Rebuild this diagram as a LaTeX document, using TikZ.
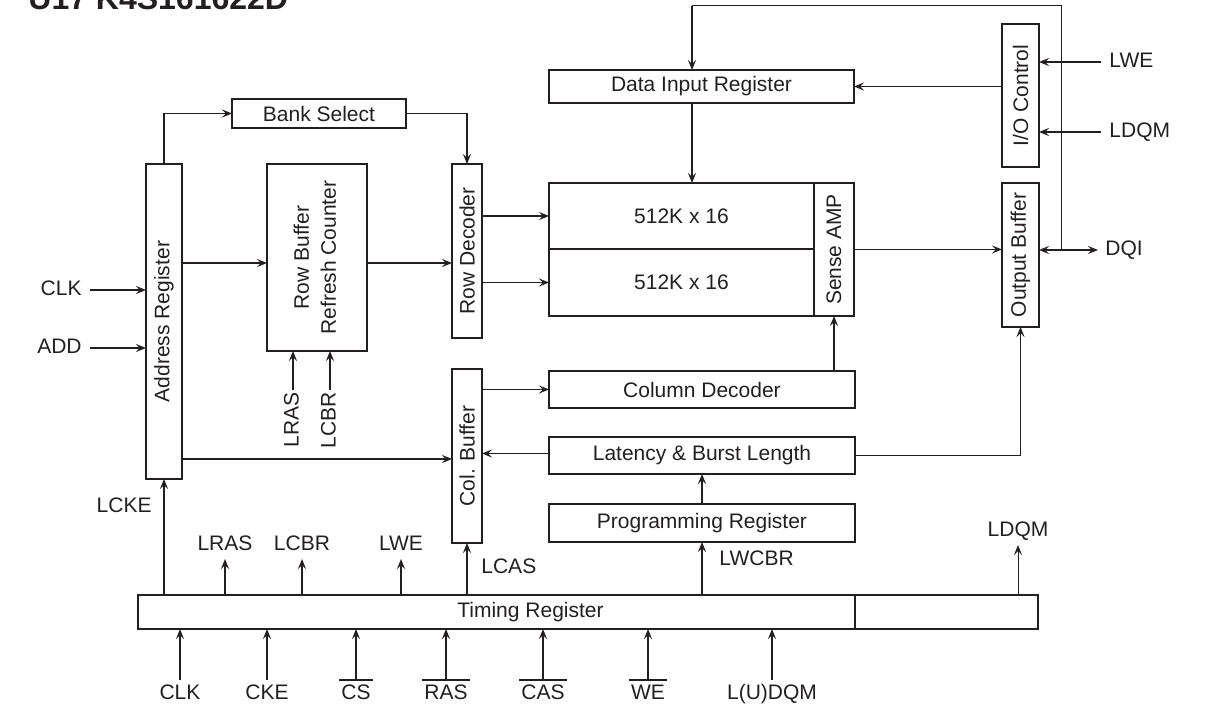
\documentclass[tikz,border=0pt]{standalone}
\usepackage{fontspec}
\setmainfont{Liberation Sans}
\usetikzlibrary{positioning,arrows.meta}
\definecolor{ink}{HTML}{231F20}
\tikzset{>={Stealth[length=5pt,width=4pt,inset=2pt]},blk/.style={draw=ink,line width=1pt,inner sep=0pt,outer sep=0pt,text=ink,font=\fontsize{10.5}{13.5}\selectfont,align=center},link/.style={draw=ink,line width=.8pt,->},dlink/.style={draw=ink,line width=.8pt,<->},wire/.style={draw=ink,line width=.5pt},sig/.style={text=ink,font=\fontsize{10.5}{12.6}\selectfont,inner xsep=1pt,inner ysep=2pt,text height=7.5pt,text depth=2pt},bar/.style={draw=ink,line width=1pt}}
\begin{document}
\begin{tikzpicture}[x=.5pt,y=-.5pt]
\useasboundingbox (0,0) rectangle (1205,705);
\node[anchor=base west,inner sep=0pt,text=ink,font=\fontsize{16}{19}\selectfont\bfseries] (title) at (28,10) {U17 K4S161622D};
\node[blk,minimum width=87pt,minimum height=14.5pt] (bank) at (319,113.5) {Bank Select};
\node[blk,minimum width=18pt,minimum height=157.5pt] (addr) at (164,321.5) {\rotatebox{90}{Address Register}};
\node[blk,minimum width=50pt,minimum height=93.5pt] (rowbuf) at (317,257.5) {\rotatebox{90}{\begin{tabular}{@{}c@{}}Row Buffer\\Refresh Counter\end{tabular}}};
\node[blk,minimum width=15pt,minimum height=87pt] (rowdec) at (467,251) {\rotatebox{90}{Row Decoder}};
\node[blk,minimum width=152.5pt,minimum height=16.5pt] (din) at (701.5,86.5) {Data Input Register};
\node[blk,minimum width=132.5pt,minimum height=33pt] (arr1) at (681.5,216) {512K x 16};
\node[blk,minimum width=132.5pt,minimum height=33.5pt,below=0pt of arr1] (arr2) {512K x 16};
\node[blk,minimum width=20pt,minimum height=66.5pt,anchor=north west] (sense) at (arr1.north east) {\rotatebox{90}{Sense AMP}};
\node[blk,minimum width=18.5pt,minimum height=71.5pt] (ioctl) at (1020.5,95.5) {\rotatebox{90}{I/O Control}};
\node[blk,minimum width=18.5pt,minimum height=72pt,below=8pt of ioctl] (outbuf) {\rotatebox{90}{Output Buffer}};
\node[blk,minimum width=153pt,minimum height=18.5pt] (coldec) at (702,389.5) {Column Decoder};
\node[blk,minimum width=153pt,minimum height=18.5pt,below=14.5pt of coldec] (lat) {Latency \& Burst Length};
\node[blk,minimum width=153pt,minimum height=19pt,below=15pt of lat] (prog) {Programming Register};
\node[blk,minimum width=15pt,minimum height=87pt] (colbuf) at (467,456) {\rotatebox{90}{Col. Buffer}};
\node[blk,minimum width=358.5pt,minimum height=17pt] (timing) at (496.5,612) {\hspace*{34pt}Timing Register};
\node[blk,minimum width=91.5pt,minimum height=17pt,right=0pt of timing] (tail) {};
\coordinate (ar) at (addr.east |- 0,263);
\coordinate (loop) at (692,6);
\coordinate (jn) at (1061,250);
\draw[link] (addr.north) |- (bank.west);
\draw[link] (bank.east) -| (rowdec.north);
\draw[link] (ar) -- (ar -| rowbuf.west);
\draw[link] (ar -| rowbuf.east) -- (ar -| rowdec.west);
\draw[link] (rowdec.east |- arr1.west) -- (arr1.west);
\draw[link] (rowdec.east |- arr2.west) -- (arr2.west);
\draw[link] (loop) -- (loop |- din.north);
\draw[link] (loop |- din.south) -- (loop |- arr1.north);
\draw[wire] (loop) -| (jn);
\draw[link] (din.east -| ioctl.west) -- (din.east);
\draw[link] (sense.east) -- (sense.east -| outbuf.west);
\node[sig,inner xsep=3.5pt,anchor=west] (dqi) at (1098,250) {DQI};
\draw[dlink] (outbuf.east |- dqi.west) -- (dqi.west);
\foreach \yy/\nm/\txt in {62/ilwe/LWE,132/ildqm/LDQM}{\node[sig,inner xsep=4pt,anchor=west] (\nm) at (1101,\yy) {\txt};
\draw[link] (\nm.west) -- (\nm.west -| ioctl.east);}
\foreach \yy/\nm/\txt in {290/iclk/CLK,348/iadd/ADD}{\node[sig,inner xsep=4pt,anchor=east] (\nm) at (90,\yy) {\txt};
\draw[link] (\nm.east) -- (\nm.east -| addr.west);}
\foreach \xx/\nm/\txt in {293/rlras/LRAS,330/rlcbr/LCBR}{\node[sig,rotate=90,anchor=east] (\nm) at (\xx,390) {\txt};
\draw[link] (\nm.east) -- (\nm.east |- rowbuf.south);}
\draw[link] (coldec.north -| sense.south) -- (sense.south);
\draw[link] (colbuf.east |- coldec.west) -- (coldec.west);
\draw[link] ([yshift=1pt]lat.west) -- ([yshift=1pt]lat.west -| colbuf.east);
\draw[link] ([yshift=-1.5pt]addr.east |- colbuf.west) -- ([yshift=-1.5pt]colbuf.west);
\draw[wire,->] (lat.east) -| (outbuf.south);
\draw[link] (prog.north) -- (lat.south);
\draw[link] (timing.north -| prog.south) -- (prog.south);
\node[sig,anchor=west] (lwcbr) at (717,560) {LWCBR};
\draw[link] (timing.north -| addr.south) -- (addr.south);
\node[sig,anchor=east] (lcke) at (154,507) {LCKE};
\draw[link] (timing.north -| colbuf.south) -- (colbuf.south);
\node[sig,anchor=west] (lcas) at (479,568) {LCAS};
\foreach \xx/\nm/\txt in {225/olras/LRAS,302/olcbr/LCBR,401/olwe/LWE}{\node[sig,anchor=south] (\nm) at (\xx,559) {\txt};
\draw[link] (\nm.south |- timing.north) -- (\nm.south);}
\node[sig,anchor=south] (oldqm) at (1018,545) {LDQM};
\draw[wire,->] (oldqm.south |- timing.north) -- (oldqm.south);
\foreach \xx/\nm/\txt in {180/bclk/CLK,267/bcke/CKE,356/bcs/CS,446/bras/RAS,543/bcas/CAS,648/bwe/WE,772/budqm/L(U)DQM}{\node[sig,anchor=north] (\nm) at (\xx,680) {\txt};
\draw[link] (\nm.north) -- (\nm.north |- timing.south);}
\foreach \nm in {bcs,bras,bcas,bwe}\draw[bar] (\nm.north west) -- (\nm.north east);
\end{tikzpicture}
\end{document}
